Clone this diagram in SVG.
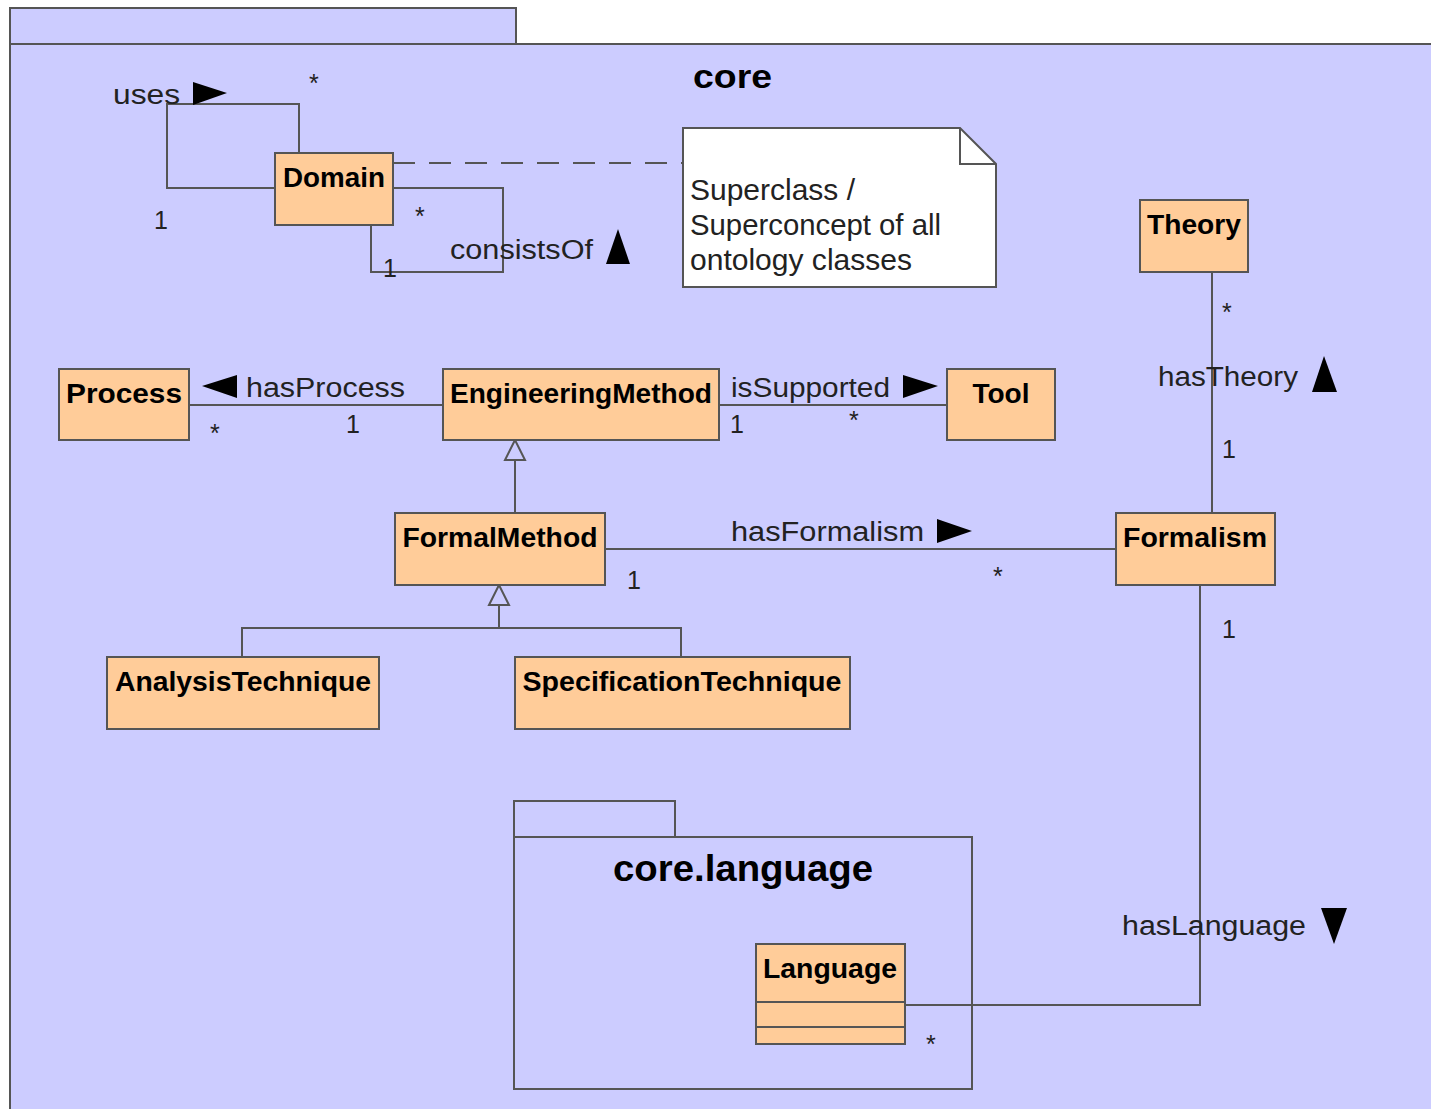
<svg xmlns="http://www.w3.org/2000/svg" width="1431" height="1109" viewBox="0 0 1431 1109">
  <style>
    .pkg { fill: #ccccff; stroke: #555555; stroke-width: 2; }
    .cls { fill: #ffcc99; stroke: #555555; stroke-width: 2; }
    .note { fill: #ffffff; stroke: #555555; stroke-width: 2; }
    .edge { fill: none; stroke: #555555; stroke-width: 2; }
    .dash { fill: none; stroke: #555555; stroke-width: 2; stroke-dasharray: 22 14; }
    .gen { fill: #ccccff; stroke: #555555; stroke-width: 2; }
    .dir { fill: #000000; }
    .name { font-family: "Liberation Sans", Arial, sans-serif; font-weight: bold; font-size: 28px; fill: #000000; text-anchor: middle; }
    .title { font-family: "Liberation Sans", Arial, sans-serif; font-weight: bold; fill: #000000; }
    .lbl { font-family: "Liberation Sans", Arial, sans-serif; font-size: 27px; fill: #222222; }
    .mult { font-family: "Liberation Sans", Arial, sans-serif; font-size: 25px; fill: #222222; }
    .ntxt { font-family: "Liberation Sans", Arial, sans-serif; font-size: 29px; fill: #222222; }
  </style>

  <rect x="0" y="0" width="1431" height="1109" fill="#ffffff"/>

  <!-- package core -->
  <g id="pkg-core">
    <rect class="pkg" x="10" y="8" width="506" height="36"/>
    <rect class="pkg" x="10" y="44" width="1440" height="1090"/>
    <text class="title" x="693" y="88" font-size="34" textLength="79" lengthAdjust="spacingAndGlyphs">core</text>
  </g>

  <!-- package core.language -->
  <g id="pkg-core-language">
    <rect class="pkg" x="514" y="801" width="161" height="36"/>
    <rect class="pkg" x="514" y="837" width="458" height="252"/>
    <text class="title" x="613" y="881" font-size="36" textLength="260" lengthAdjust="spacingAndGlyphs">core.language</text>
  </g>

  <!-- connectors -->
  <g id="connectors">
    <!-- uses (self loop) -->
    <polyline class="edge" points="275,188 167,188 167,104 299,104 299,153"/>
    <text class="lbl" x="113" y="104" textLength="67" lengthAdjust="spacingAndGlyphs">uses</text>
    <polygon class="dir" points="193,82 193,105 227,93"/>
    <text class="mult" x="309" y="92">*</text>
    <text class="mult" x="154" y="229">1</text>

    <!-- consistsOf (self loop) -->
    <polyline class="edge" points="393,188 503,188 503,272 371,272 371,225"/>
    <text class="lbl" x="450" y="259" textLength="143" lengthAdjust="spacingAndGlyphs">consistsOf</text>
    <polygon class="dir" points="606,264 630,264 618,229"/>
    <text class="mult" x="415" y="225">*</text>
    <text class="mult" x="383" y="277">1</text>

    <!-- note anchor -->
    <line class="dash" x1="393" y1="163" x2="683" y2="163"/>

    <!-- hasProcess -->
    <line class="edge" x1="189" y1="405" x2="443" y2="405"/>
    <text class="lbl" x="246" y="397" textLength="159" lengthAdjust="spacingAndGlyphs">hasProcess</text>
    <polygon class="dir" points="237,375 237,398 202,386"/>
    <text class="mult" x="210" y="442">*</text>
    <text class="mult" x="346" y="433">1</text>

    <!-- isSupported -->
    <line class="edge" x1="719" y1="405" x2="947" y2="405"/>
    <text class="lbl" x="731" y="397" textLength="159" lengthAdjust="spacingAndGlyphs">isSupported</text>
    <polygon class="dir" points="903,375 903,398 938,386"/>
    <text class="mult" x="730" y="433">1</text>
    <text class="mult" x="849" y="429">*</text>

    <!-- FormalMethod generalizes EngineeringMethod -->
    <line class="edge" x1="515" y1="460" x2="515" y2="513"/>
    <polygon class="gen" points="515,440 505,460 525,460"/>

    <!-- hasFormalism -->
    <line class="edge" x1="605" y1="549" x2="1116" y2="549"/>
    <text class="lbl" x="731" y="541" textLength="193" lengthAdjust="spacingAndGlyphs">hasFormalism</text>
    <polygon class="dir" points="937,519 937,543 972,531"/>
    <text class="mult" x="627" y="589">1</text>
    <text class="mult" x="993" y="585">*</text>

    <!-- hasTheory -->
    <line class="edge" x1="1212" y1="272" x2="1212" y2="513"/>
    <text class="lbl" x="1158" y="386" textLength="140" lengthAdjust="spacingAndGlyphs">hasTheory</text>
    <polygon class="dir" points="1312,392 1337,392 1324,356"/>
    <text class="mult" x="1222" y="321">*</text>
    <text class="mult" x="1222" y="458">1</text>

    <!-- Analysis/Specification generalize FormalMethod -->
    <polyline class="edge" points="242,657 242,628 681,628 681,657"/>
    <line class="edge" x1="499" y1="605" x2="499" y2="628"/>
    <polygon class="gen" points="499,585 489,605 509,605"/>

    <!-- hasLanguage -->
    <polyline class="edge" points="1200,585 1200,1005 905,1005"/>
    <text class="lbl" x="1122" y="935" textLength="184" lengthAdjust="spacingAndGlyphs">hasLanguage</text>
    <polygon class="dir" points="1321,908 1347,908 1334,944"/>
    <text class="mult" x="1222" y="638">1</text>
    <text class="mult" x="926" y="1053">*</text>
  </g>

  <!-- classes -->
  <g id="Domain">
    <rect class="cls" x="275" y="153" width="118" height="72"/>
    <text class="name" x="334" y="187" textLength="102" lengthAdjust="spacingAndGlyphs">Domain</text>
  </g>

  <g id="Note">
    <polygon class="note" points="683,128 960,128 996,164 996,287 683,287"/>
    <polyline class="edge" points="960,128 960,164 996,164"/>
    <text class="ntxt" x="690" y="200" textLength="165" lengthAdjust="spacingAndGlyphs">Superclass /</text>
    <text class="ntxt" x="690" y="235" textLength="251" lengthAdjust="spacingAndGlyphs">Superconcept of all</text>
    <text class="ntxt" x="690" y="270" textLength="222" lengthAdjust="spacingAndGlyphs">ontology classes</text>
  </g>

  <g id="Theory">
    <rect class="cls" x="1140" y="200" width="108" height="72"/>
    <text class="name" x="1194" y="234" textLength="94" lengthAdjust="spacingAndGlyphs">Theory</text>
  </g>

  <g id="Process">
    <rect class="cls" x="59" y="369" width="130" height="71"/>
    <text class="name" x="124" y="403" textLength="116" lengthAdjust="spacingAndGlyphs">Process</text>
  </g>

  <g id="EngineeringMethod">
    <rect class="cls" x="443" y="369" width="276" height="71"/>
    <text class="name" x="581" y="403" textLength="262" lengthAdjust="spacingAndGlyphs">EngineeringMethod</text>
  </g>

  <g id="Tool">
    <rect class="cls" x="947" y="369" width="108" height="71"/>
    <text class="name" x="1001" y="403" textLength="57" lengthAdjust="spacingAndGlyphs">Tool</text>
  </g>

  <g id="FormalMethod">
    <rect class="cls" x="395" y="513" width="210" height="72"/>
    <text class="name" x="500" y="547" textLength="195" lengthAdjust="spacingAndGlyphs">FormalMethod</text>
  </g>

  <g id="Formalism">
    <rect class="cls" x="1116" y="513" width="159" height="72"/>
    <text class="name" x="1195" y="547" textLength="144" lengthAdjust="spacingAndGlyphs">Formalism</text>
  </g>

  <g id="AnalysisTechnique">
    <rect class="cls" x="107" y="657" width="272" height="72"/>
    <text class="name" x="243" y="691" textLength="256" lengthAdjust="spacingAndGlyphs">AnalysisTechnique</text>
  </g>

  <g id="SpecificationTechnique">
    <rect class="cls" x="515" y="657" width="335" height="72"/>
    <text class="name" x="682" y="691" textLength="319" lengthAdjust="spacingAndGlyphs">SpecificationTechnique</text>
  </g>

  <g id="Language">
    <rect class="cls" x="756" y="944" width="149" height="100"/>
    <line class="edge" x1="756" y1="1002" x2="905" y2="1002"/>
    <line class="edge" x1="756" y1="1027" x2="905" y2="1027"/>
    <text class="name" x="830" y="978" textLength="134" lengthAdjust="spacingAndGlyphs">Language</text>
  </g>
</svg>
